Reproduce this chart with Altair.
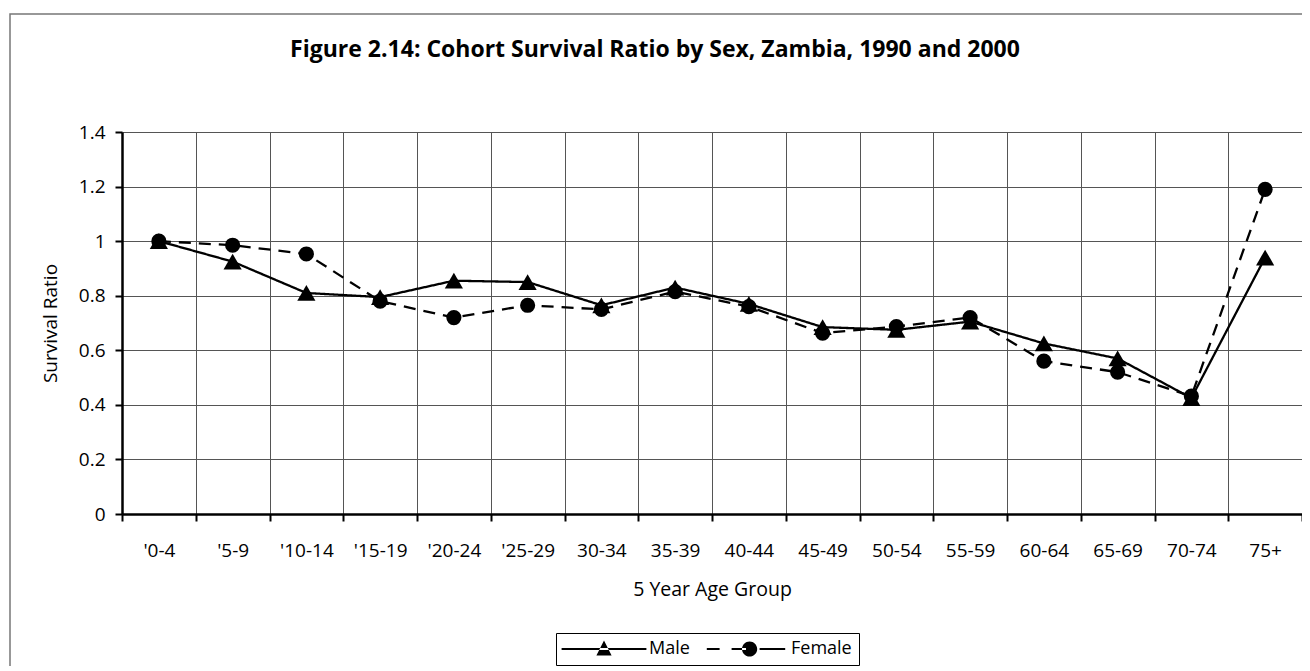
import altair as alt
import pandas as pd

# ---- data ----
ages = ["'0-4", "'5-9", "'10-14", "'15-19", "'20-24", "'25-29", "30-34", "35-39",
        "40-44", "45-49", "50-54", "55-59", "60-64", "65-69", "70-74", "75+"]
male = [1.0, 0.925, 0.81, 0.795, 0.855, 0.85, 0.765, 0.83,
        0.77, 0.685, 0.675, 0.705, 0.625, 0.57, 0.425, 0.94]
female = [1.0, 0.985, 0.953, 0.78, 0.72, 0.765, 0.75, 0.815,
          0.76, 0.663, 0.687, 0.72, 0.56, 0.52, 0.432, 1.19]
series = ["Male", "Female"]
marker_sizes = [330, 230]
y_ticks = [0, 0.2, 0.4, 0.6, 0.8, 1.0, 1.2, 1.4]

rows = []
for a, m, f in zip(ages, male, female):
    rows.append({"age": a, "sex": "Male", "ratio": m})
    rows.append({"age": a, "sex": "Female", "ratio": f})
df = pd.DataFrame(rows)
legend_df = pd.DataFrame({"sex": series})
frame_df = pd.DataFrame({"k": [0]})

FONT = "Open Sans"
GRID = "#555555"

# legend symbols: line + marker drawn as filled custom symbol paths (unit = 8px)
male_sym = ("M-5.3,-0.14H5.3V0.14H-5.3Z"
            "M-0.95,0.8L0.95,0.8L0,-1.05Z")
female_sym = ("M-4.9,-0.14H-3.3V0.14H-4.9Z"
              "M-1.8,-0.14H0V0.14H-1.8Z"
              "M1.7,-0.14H4.9V0.14H1.7Z"
              "M-0.5,0A0.95,0.95,0,1,0,1.4,0A0.95,0.95,0,1,0,-0.5,0Z")

x_enc = alt.X(
    "age:N", sort=ages, title="5 Year Age Group", bandPosition=0.5,
    scale=alt.Scale(type="band", paddingInner=0, paddingOuter=0),
    axis=alt.Axis(labelAngle=0, tickBand="extent", grid=True, gridColor=GRID,
                  gridWidth=1, tickSize=7, tickWidth=2, tickColor="black",
                  domainColor="black", domainWidth=2.5, labelFont=FONT,
                  labelFontSize=19, labelColor="black", labelPadding=20,
                  titleFont=FONT, titleFontSize=19.5, titleFontWeight="normal",
                  titleColor="black", titlePadding=20),
)
y_enc = alt.Y(
    "ratio:Q", title="Survival Ratio",
    scale=alt.Scale(domain=[0, 1.4], nice=False, zero=True),
    axis=alt.Axis(values=y_ticks, format="~g", grid=True, gridColor=GRID,
                  gridWidth=1, tickSize=7, tickWidth=2, tickColor="black",
                  domainColor="black", domainWidth=2.5, labelFont=FONT,
                  labelFontSize=19, labelColor="black", labelPadding=10,
                  titleFont=FONT, titleFontSize=19, titleFontWeight="normal",
                  titleColor="black", titlePadding=18),
)

lines = alt.Chart(df).mark_line(color="black", strokeWidth=2.3).encode(
    x=x_enc, y=y_enc,
    strokeDash=alt.StrokeDash("sex:N", scale=alt.Scale(domain=series, range=[[1, 0], [12, 8]]),
                              legend=None),
    detail="sex:N",
)

points = alt.Chart(df).mark_point(filled=True, color="black", opacity=1).encode(
    x=x_enc, y=y_enc,
    shape=alt.Shape("sex:N", scale=alt.Scale(domain=series, range=["triangle-up", "circle"]),
                    legend=None),
    size=alt.Size("sex:N", scale=alt.Scale(domain=series, range=marker_sizes), legend=None),
)

legend_layer = alt.Chart(legend_df).mark_point(
    filled=True, size=256, clip=True, color="black"
).encode(
    x=alt.value(-300), y=alt.value(-300),
    shape=alt.Shape(
        "sex:N", scale=alt.Scale(domain=series, range=[male_sym, female_sym]),
        legend=alt.Legend(title=None, orient="none", legendX=434, legendY=501,
                          direction="horizontal", strokeColor="black", padding=7,
                          symbolSize=256, symbolFillColor="black",
                          symbolStrokeWidth=0,
                          symbolOpacity=1, symbolOffset=32, labelOffset=36,
                          labelFont=FONT, labelFontSize=18,
                          labelColor="black", columnPadding=15),
    ),
)

frame = alt.Chart(frame_df).mark_rect(filled=False, stroke="#777777", strokeWidth=1.5).encode(
    x=alt.value(-112), y=alt.value(-118), x2=alt.value(1300), y2=alt.value(700)
)

chart = alt.layer(frame, lines, points, legend_layer).resolve_scale(
    shape="independent"
).properties(
    width=1180, height=382,
    padding={"left": 114, "top": 124, "right": 0, "bottom": 152},
    autosize=alt.AutoSizeParams(type="none"),
    title=alt.TitleParams(
        "Figure 2.14: Cohort Survival Ratio by Sex, Zambia, 1990 and 2000",
        font=FONT, fontSize=23, fontWeight="bold", color="black",
        anchor="middle", dx=-57, offset=-49, frame="group",
    ),
).configure_view(stroke=GRID, strokeWidth=1).configure(background="white")

chart.save("out.html", embed_options={"renderer": "svg", "actions": False})
